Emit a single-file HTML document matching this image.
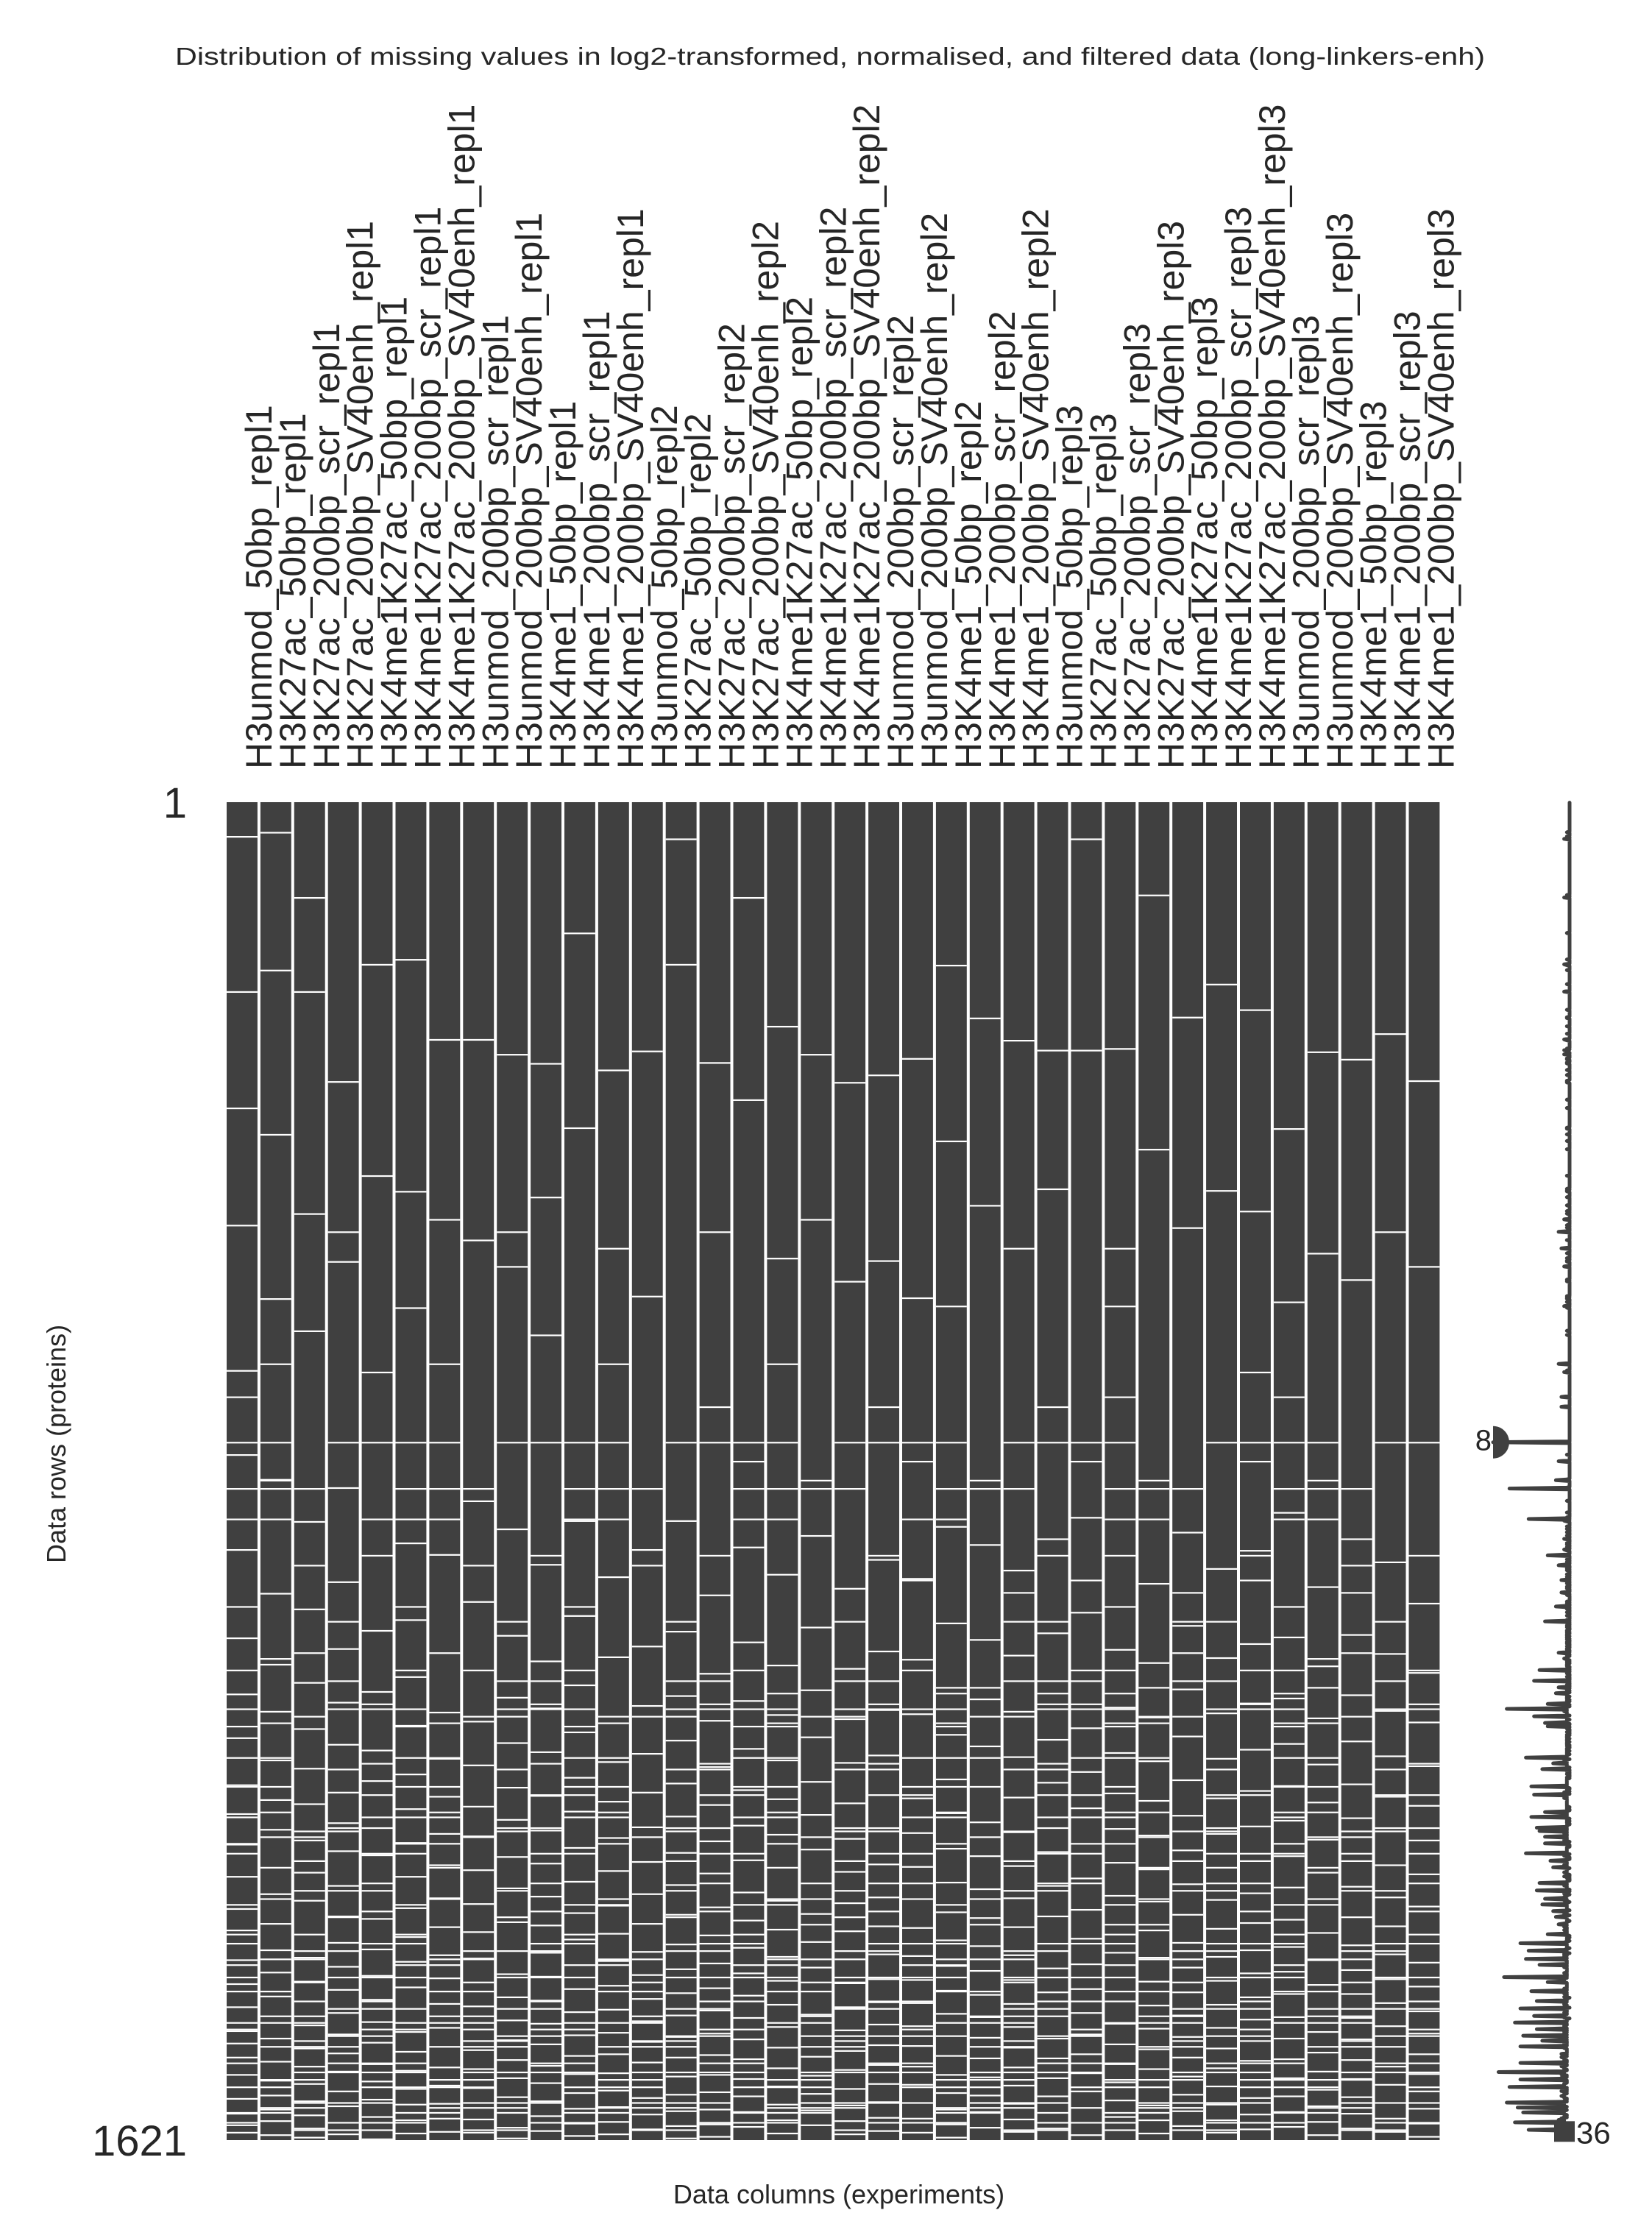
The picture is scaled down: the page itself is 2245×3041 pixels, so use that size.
<!DOCTYPE html>
<html><head><meta charset="utf-8"><style>
html,body{margin:0;padding:0;background:#fff}
svg{display:block;font-family:"Liberation Sans",Arial,sans-serif}
</style></head><body>
<svg id="chart" width="2245" height="3041" viewBox="0 0 2245 3041" xmlns="http://www.w3.org/2000/svg">
<rect x="0" y="0" width="2245" height="3041" fill="#fff"/>
<text x="1128" y="88" font-size="33" text-anchor="middle" fill="#262626" textLength="1780" lengthAdjust="spacingAndGlyphs">Distribution of missing values in log2-transformed, normalised, and filtered data (long-linkers-enh)</text>
<g id="labels"></g>
<g id="matrix"></g>
<g id="spark"></g>
<text x="254" y="1111" font-size="58" text-anchor="end" fill="#262626">1</text>
<text x="254" y="2929" font-size="58" text-anchor="end" fill="#262626">1621</text>
<text x="0" y="0" font-size="36" text-anchor="middle" fill="#262626" transform="translate(89,1962) rotate(-90)">Data rows (proteins)</text>
<text x="1140" y="2994" font-size="36" text-anchor="middle" fill="#262626">Data columns (experiments)</text>
</svg>
<script>
const columns = ["H3unmod_50bp_repl1","H3K27ac_50bp_repl1","H3K27ac_200bp_scr_repl1","H3K27ac_200bp_SV40enh_repl1","H3K4me1K27ac_50bp_repl1","H3K4me1K27ac_200bp_scr_repl1","H3K4me1K27ac_200bp_SV40enh_repl1","H3unmod_200bp_scr_repl1","H3unmod_200bp_SV40enh_repl1","H3K4me1_50bp_repl1","H3K4me1_200bp_scr_repl1","H3K4me1_200bp_SV40enh_repl1",
"H3unmod_50bp_repl2","H3K27ac_50bp_repl2","H3K27ac_200bp_scr_repl2","H3K27ac_200bp_SV40enh_repl2","H3K4me1K27ac_50bp_repl2","H3K4me1K27ac_200bp_scr_repl2","H3K4me1K27ac_200bp_SV40enh_repl2","H3unmod_200bp_scr_repl2","H3unmod_200bp_SV40enh_repl2","H3K4me1_50bp_repl2","H3K4me1_200bp_scr_repl2","H3K4me1_200bp_SV40enh_repl2",
"H3unmod_50bp_repl3","H3K27ac_50bp_repl3","H3K27ac_200bp_scr_repl3","H3K27ac_200bp_SV40enh_repl3","H3K4me1K27ac_50bp_repl3","H3K4me1K27ac_200bp_scr_repl3","H3K4me1K27ac_200bp_SV40enh_repl3","H3unmod_200bp_scr_repl3","H3unmod_200bp_SV40enh_repl3","H3K4me1_50bp_repl3","H3K4me1_200bp_scr_repl3","H3K4me1_200bp_SV40enh_repl3"];
const nRows = 1621;
const missingRows = [
[41,229,370,512,688,790,905,1012,1080,1133,1190,1225,1262,1301,1340,1366,1402,1431,1459,1488,1503,1520,1541,1556,1570,1588,1602,1611],
[36,203,402,601,820,958,1044,1101,1160,1208,1244,1290,1322,1358,1390,1417,1446,1470,1497,1525,1548,1566,1583,1597,1614],
[115,229,498,640,871,977,1066,1122,1170,1213,1257,1296,1330,1371,1399,1428,1452,1481,1509,1531,1552,1573,1590,1606,1617],
[338,556,830,944,1025,1090,1141,1199,1236,1270,1312,1349,1381,1410,1438,1466,1492,1515,1537,1561,1579,1599,1613],
[196,452,690,868,1003,1077,1148,1185,1229,1275,1318,1352,1389,1421,1450,1477,1502,1528,1549,1571,1592,1608,1619],
[190,471,612,897,990,1059,1118,1177,1219,1260,1301,1339,1374,1404,1435,1461,1489,1513,1536,1558,1577,1596,1612],
[287,505,911,1030,1102,1158,1204,1249,1287,1327,1362,1396,1424,1455,1484,1507,1532,1554,1576,1594,1610],
[287,530,846,968,1051,1113,1166,1216,1252,1293,1334,1368,1400,1429,1458,1486,1511,1534,1557,1575,1595,1611],
[305,562,880,1009,1084,1139,1193,1232,1277,1315,1356,1391,1419,1447,1475,1499,1523,1545,1568,1587,1605,1618],
[316,478,645,923,1040,1097,1150,1203,1245,1285,1325,1360,1393,1422,1451,1479,1504,1530,1551,1573,1591,1609],
[158,394,870,985,1069,1126,1181,1222,1266,1307,1345,1377,1408,1437,1465,1493,1518,1540,1563,1582,1600,1615],
[324,540,938,1035,1107,1162,1210,1254,1294,1336,1370,1403,1433,1462,1490,1516,1539,1560,1580,1598,1613],
[301,598,905,1022,1094,1152,1199,1241,1283,1322,1358,1392,1420,1449,1476,1501,1526,1547,1569,1589,1607],
[44,196,870,1004,1082,1136,1188,1228,1272,1311,1347,1383,1413,1442,1469,1495,1520,1543,1565,1585,1603,1618],
[315,520,960,1055,1112,1168,1214,1258,1297,1338,1372,1406,1436,1463,1491,1517,1541,1562,1583,1601,1616],
[115,360,902,1017,1088,1146,1196,1239,1281,1320,1354,1387,1418,1445,1472,1498,1522,1546,1567,1586,1604],
[271,552,935,1045,1105,1160,1207,1250,1290,1330,1365,1398,1427,1456,1483,1508,1533,1555,1577,1596,1612],
[305,505,888,999,1075,1132,1186,1226,1268,1309,1346,1380,1411,1440,1468,1494,1519,1542,1564,1584,1602],
[339,580,952,1049,1110,1163,1212,1255,1295,1333,1367,1401,1430,1459,1487,1512,1535,1558,1578,1597,1613],
[330,555,917,1028,1099,1154,1202,1246,1286,1326,1361,1395,1425,1453,1480,1505,1529,1552,1574,1593,1609],
[310,600,940,1038,1104,1157,1206,1248,1289,1328,1363,1397,1426,1454,1482,1506,1531,1553,1575,1594,1611],
[197,410,877,994,1072,1129,1183,1224,1267,1308,1344,1378,1409,1439,1467,1494,1518,1541,1563,1583,1601,1617],
[261,488,899,1014,1086,1143,1192,1235,1276,1316,1351,1385,1415,1444,1471,1496,1521,1544,1566,1586,1605],
[288,540,930,1033,1101,1156,1205,1247,1288,1327,1362,1396,1426,1455,1483,1508,1532,1554,1576,1595,1610],
[300,468,892,1006,1079,1135,1187,1229,1271,1312,1349,1382,1412,1441,1470,1497,1521,1545,1567,1587,1606],
[44,300,866,981,1064,1121,1174,1218,1261,1303,1341,1376,1407,1437,1466,1492,1516,1539,1561,1581,1599,1614],
[298,540,912,1026,1096,1151,1200,1243,1284,1324,1359,1393,1423,1452,1479,1504,1528,1550,1572,1592,1608],
[112,420,946,1042,1108,1161,1209,1251,1292,1331,1366,1399,1428,1457,1485,1510,1534,1556,1578,1596,1612],
[260,515,884,997,1074,1131,1184,1227,1269,1310,1347,1381,1411,1441,1469,1495,1520,1543,1565,1585,1603],
[220,470,928,1036,1103,1158,1206,1249,1290,1329,1364,1398,1427,1456,1484,1509,1533,1555,1577,1596,1611],
[251,495,690,906,1019,1091,1147,1197,1240,1282,1321,1357,1390,1418,1447,1474,1500,1524,1547,1569,1589,1607],
[395,605,860,1011,1085,1140,1191,1233,1276,1314,1353,1386,1416,1443,1471,1497,1522,1545,1567,1586,1604],
[302,546,950,1046,1109,1165,1211,1256,1296,1335,1369,1402,1432,1461,1489,1514,1537,1559,1579,1598,1614],
[311,578,892,1008,1081,1137,1189,1230,1273,1313,1350,1384,1414,1443,1472,1498,1523,1546,1568,1588,1606],
[280,520,920,1031,1100,1155,1204,1246,1287,1326,1361,1395,1425,1454,1482,1507,1531,1553,1575,1594,1610],
[337,562,970,1054,1114,1167,1215,1257,1298,1337,1371,1405,1434,1464,1491,1516,1540,1561,1582,1600,1616]
];
// rows missing in many experiments at once, and how many experiments miss them
const sharedRows = [520,610,680,720,732,775,798,821,831,868,912,924,942,957,974,992,1030,1037,1051,1064,1072,1079,1092,1098,1107,1115,1119,1157,1164,1171,1192,1202,1223,1229,1242,1246,1253,1261,1273,1282,1290,1309,1318,1328,1335,1343,1350,1359,1371,1382,1391,1401,1408,1423,1429,1440,1452,1461,1470,1478,1486,1494,1500,1507,1527,1538,1547,1556,1575,1581,1587,1599,1608];
const sharedCounts = [3,2,4,3,3,28,4,5,22,14,7,4,3,3,5,9,3,2,10,12,3,4,8,23,12,9,8,16,6,10,13,13,9,12,12,10,9,8,15,6,4,10,11,8,9,6,4,3,6,18,15,16,11,24,8,14,10,16,12,20,11,15,9,18,18,26,17,22,22,18,15,20,13];
const sparkTickLabels = ["8","36"];

const SVGNS = "http://www.w3.org/2000/svg";
const plotLeft = 308, pitch = 45.9, gap = 4, plotTop = 1090, plotBottom = 2908;
const colX = i => plotLeft + i * pitch;
const rowY = r => plotTop + (r / nRows) * (plotBottom - plotTop);
const nCols = columns.length;

const miss = columns.map(() => new Set());
missingRows.forEach((rows, c) => rows.forEach(r => miss[c].add(r)));
sharedRows.forEach((r, k) => {
  const span = sharedCounts[k];
  for (let c = 0; c < nCols; c++) { if ((c * 7 + r) % nCols < span) miss[c].add(r); }
});

const labels = document.getElementById('labels');
columns.forEach((name, i) => {
  const t = document.createElementNS(SVGNS, 'text');
  
  
  const cx = colX(i) + (pitch - gap) / 2 + 40;
  t.setAttribute('transform', `translate(${cx},1045) rotate(-90)`);
  t.setAttribute('font-size', '50');
  t.setAttribute('fill', '#262626');
  t.textContent = name;
  labels.appendChild(t);
});

const matrix = document.getElementById('matrix');
columns.forEach((name, i) => {
  const c = document.createElementNS(SVGNS, 'rect');
  
  
  c.setAttribute('x', colX(i));
  c.setAttribute('y', plotTop);
  c.setAttribute('width', pitch - gap);
  c.setAttribute('height', plotBottom - plotTop);
  c.setAttribute('fill', '#404040');
  matrix.appendChild(c);
  miss[i].forEach(r => {
    const m = document.createElementNS(SVGNS, 'rect');
    
    
    m.setAttribute('x', colX(i));
    m.setAttribute('y', rowY(r));
    m.setAttribute('width', pitch - gap);
    m.setAttribute('height', 2.2);
    m.setAttribute('fill', '#ffffff');
    matrix.appendChild(m);
  });
});

const counts = new Array(nRows).fill(nCols);
miss.forEach(s => s.forEach(r => { if (r < nRows) counts[r]--; }));
const vMin = Math.min(...counts), vMax = Math.max(...counts);
const sx = v => 2029 + (v - vMin) / ((vMax - vMin) || 1) * (2133 - 2029);
const spark = document.getElementById('spark');
let d = '';
counts.forEach((v, r) => { d += (r ? 'L' : 'M') + sx(v).toFixed(1) + ',' + rowY(r + 0.5).toFixed(1); });
const p = document.createElementNS(SVGNS, 'path');


p.setAttribute('d', d);
p.setAttribute('fill', 'none');
p.setAttribute('stroke', '#404040');
p.setAttribute('stroke-width', '5');
p.setAttribute('stroke-linejoin', 'round');
p.setAttribute('stroke-linecap', 'round');
spark.appendChild(p);
const minRow = counts.indexOf(vMin);
const minDot = document.createElementNS(SVGNS, 'path');


const my = rowY(minRow + 0.5), mx = sx(vMin);
minDot.setAttribute('d', `M${mx},${my - 22} A22,22 0 0 1 ${mx},${my + 22} Z`);
minDot.setAttribute('fill', '#404040');
spark.appendChild(minDot);
const minLbl = document.createElementNS(SVGNS, 'text');


minLbl.setAttribute('x', mx - 2);
minLbl.setAttribute('y', my + 11);
minLbl.setAttribute('font-size', '40');
minLbl.setAttribute('text-anchor', 'end');
minLbl.setAttribute('fill', '#262626');
minLbl.textContent = sparkTickLabels[0];
spark.appendChild(minLbl);
const maxDot = document.createElementNS(SVGNS, 'rect');


const My = rowY(nRows - 14), Mx = sx(vMax);
maxDot.setAttribute('x', Mx - 21);
maxDot.setAttribute('y', My - 10);
maxDot.setAttribute('width', 28);
maxDot.setAttribute('height', 28);
maxDot.setAttribute('fill', '#404040');
spark.appendChild(maxDot);
const maxLbl = document.createElementNS(SVGNS, 'text');


maxLbl.setAttribute('x', Mx + 9);
maxLbl.setAttribute('y', My + 20);
maxLbl.setAttribute('font-size', '42');
maxLbl.setAttribute('fill', '#262626');
maxLbl.textContent = sparkTickLabels[1];
spark.appendChild(maxLbl);
</script>
</body></html>
